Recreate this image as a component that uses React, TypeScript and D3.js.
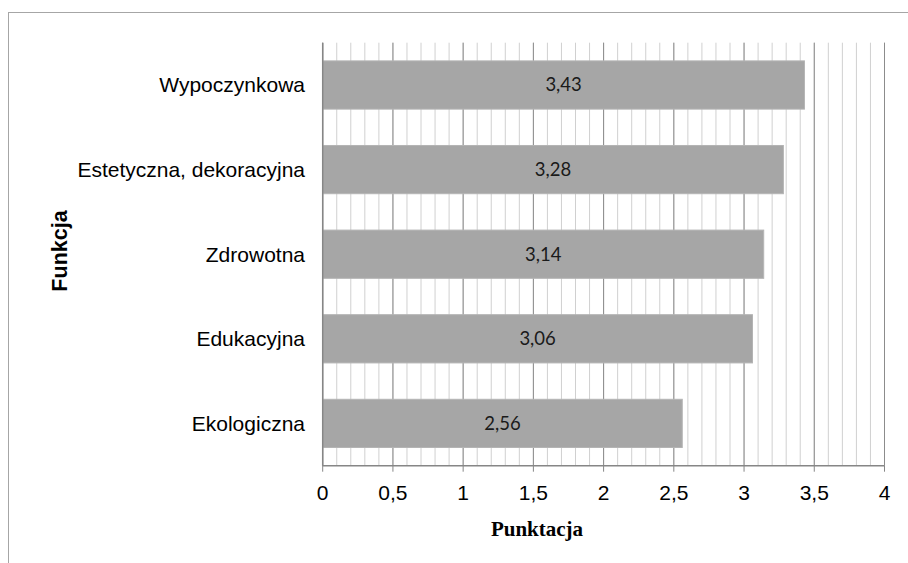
import React from "react";
import * as d3 from "d3";

const categories = ["Wypoczynkowa", "Estetyczna, dekoracyjna", "Zdrowotna", "Edukacyjna", "Ekologiczna"];
const values = [3.43, 3.28, 3.14, 3.06, 2.56];
const majorTicks = [0, 0.5, 1, 1.5, 2, 2.5, 3, 3.5, 4];
const minorTicks = d3.range(0, 41).map((i) => i / 10);

const W = 908;
const H = 563;
const left = 322.7;
const right = 884.5;
const top = 42.7;
const bottom = 465.7;

export default function App() {
  const x = d3.scaleLinear().domain([0, 4]).range([left, right]);
  const y = d3.scaleBand().domain(categories).range([top, bottom]).paddingInner(0.43).paddingOuter(0.215);
  const fmt = (v: number) => String(v).replace(".", ",");
  return (
    <svg width={W} height={H} style={{ position: "absolute", left: 0, top: 0, background: "#fff" }}>
      <rect x={8.5} y={12.5} width={W + 10} height={H + 10} fill="#fff" stroke="#a6a6a6" strokeWidth={1} />
      {minorTicks.map((t, i) => (
        <line key={"mi" + i} x1={x(t)} x2={x(t)} y1={top} y2={bottom} stroke="#d0d0d0" strokeWidth={1} />
      ))}
      {majorTicks.map((t, i) => (
        <line key={"ma" + i} x1={x(t)} x2={x(t)} y1={top} y2={bottom} stroke="#8c8c8c" strokeWidth={1} />
      ))}
      {categories.map((c, i) => (
        <g key={c}>
          <rect x={x(0)} y={y(c)!} width={x(values[i]) - x(0)} height={y.bandwidth()} fill="#a6a6a6" stroke="#b4b4b4" strokeWidth={1} />
          <text x={(x(0) + x(values[i])) / 2} y={y(c)! + y.bandwidth() / 2} dy="0.35em" textAnchor="middle"
            fontFamily="Lato, sans-serif" fontSize={18.5} fill="#1a1a1a">{fmt(values[i])}</text>
          <text x={305} y={y(c)! + y.bandwidth() / 2} dy="0.35em" textAnchor="end"
            fontFamily="'Liberation Sans', Arial, sans-serif" fontSize={21} fill="#000">{c}</text>
        </g>
      ))}
      <line x1={left} x2={left} y1={top} y2={bottom} stroke="#868686" strokeWidth={1.5} />
      <line x1={left} x2={right} y1={bottom} y2={bottom} stroke="#868686" strokeWidth={1.5} />
      {majorTicks.map((t, i) => (
        <g key={"t" + i}>
          <line x1={x(t)} x2={x(t)} y1={bottom} y2={bottom + 6} stroke="#868686" strokeWidth={1} />
          <text x={x(t)} y={493} dy="0.35em" textAnchor="middle"
            fontFamily="'Liberation Sans', Arial, sans-serif" fontSize={21} fill="#000">{fmt(t)}</text>
        </g>
      ))}
      <text x={537} y={529} dy="0.35em" textAnchor="middle" fontFamily="'Liberation Serif', 'Times New Roman', serif"
        fontWeight="bold" fontSize={21} fill="#000">Punktacja</text>
      <text transform="translate(59,251) rotate(-90)" dy="0.35em" textAnchor="middle"
        fontFamily="'Liberation Sans', Arial, sans-serif" fontWeight="bold" fontSize={21.5} fill="#000">Funkcja</text>
    </svg>
  );
}
